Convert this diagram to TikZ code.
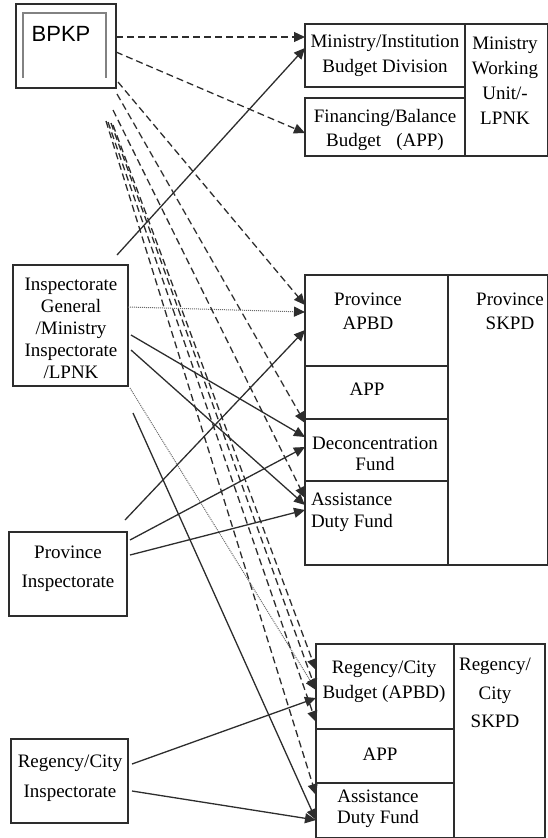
\documentclass[tikz,border=0pt]{standalone}
\usepackage{fontspec}
\setmainfont{Liberation Serif}
\newfontfamily\headsans{Liberation Sans}
\usetikzlibrary{arrows.meta,calc}
\definecolor{inkline}{RGB}{45,45,45}
\definecolor{framegray}{RGB}{130,130,130}
\definecolor{dotgray}{RGB}{105,105,105}
\begin{document}
\begin{tikzpicture}[x=1pt,y=-1pt,
  box/.style={draw=inkline,line width=1.2pt,inner sep=0pt,outer sep=0pt},
  lbl/.style={inner sep=0pt,outer sep=0pt,align=center,text=black,font=\fontsize{19}{#1}\selectfont},
  lbl/.default=24,
  solidarr/.style={draw=inkline,line width=1.3pt,-{Triangle[length=11pt,width=10pt]}},
  dasharr/.style={solidarr,dash pattern=on 7pt off 4pt},
  dotarr/.style={draw=dotgray,line width=1pt,dash pattern=on 1pt off 1pt,-{Triangle[length=11pt,width=10pt,color=inkline]}}]
\path[use as bounding box] (0,0) rectangle (548,838);
\node[box,minimum width=100pt,minimum height=84pt] (bpkp) at (66,46) {};
\draw[framegray,line width=1.3pt] ($(bpkp.south west)+(7,-10)$) -- ($(bpkp.north west)+(7,9)$) -- ($(bpkp.north east)+(-10,9)$) -- ($(bpkp.south east)+(-10,-10)$);
\node[inner sep=0pt,outer sep=0pt,text=black,font=\headsans\fontsize{22}{26}\selectfont] (bpkptext) at (61,34) {BPKP};
\node[box,minimum width=160pt,minimum height=63pt] (mininst) at (385,55.5) {};
\node[box,minimum width=160pt,minimum height=58pt] (finbal) at (385,127) {};
\node[box,minimum width=83pt,minimum height=132pt] (minunit) at (506.5,90) {};
\node[lbl=25] (mininsttext) at (385,56) {Ministry/Institution\\Budget Division};
\node[lbl=24] (finbaltext) at (385,130) {Financing/Balance\\Budget\hspace{0.8em}(APP)};
\node[lbl=25] (minunittext) at (505,81) {Ministry\\Working\\Unit/-\\LPNK};
\node[box,minimum width=143pt,minimum height=91pt] (provapbd) at (376.5,320.5) {};
\node[box,minimum width=143pt,minimum height=53pt] (provapp) at (376.5,392.5) {};
\node[box,minimum width=143pt,minimum height=62pt] (provdec) at (376.5,450) {};
\node[box,minimum width=143pt,minimum height=84pt] (provast) at (376.5,523) {};
\node[box,minimum width=100pt,minimum height=290pt] (provskpd) at (498,420) {};
\node[lbl=24] (provapbdtext) at (368,311) {Province\\APBD};
\node[lbl] (provapptext) at (367,389) {APP};
\node[lbl=21] (provdectext) at (375,454) {Deconcentration\\Fund};
\node[lbl=22,align=left,anchor=west] (provasttext) at (311,512) {Assistance\\Duty Fund};
\node[lbl=24] (provskpdtext) at (510,311) {Province\\SKPD};
\node[box,minimum width=138pt,minimum height=85pt] (regapbd) at (385,686.5) {};
\node[box,minimum width=138pt,minimum height=54pt] (regapp) at (385,756) {};
\node[box,minimum width=138pt,minimum height=55pt] (regast) at (385,810.5) {};
\node[box,minimum width=91pt,minimum height=194pt] (regskpd) at (499.5,741) {};
\node[lbl=25] (regapbdtext) at (384,682) {Regency/City\\Budget (APBD)};
\node[lbl] (regapptext) at (380,754) {APP};
\node[lbl=21] (regasttext) at (378,809) {Assistance\\Duty Fund};
\node[lbl=28.5] (regskpdtext) at (495,693) {Regency/\\City\\SKPD};
\node[box,minimum width=115pt,minimum height=121pt] (igbox) at (70.5,325.5) {};
\node[lbl=22] (igtext) at (71,328) {Inspectorate\\General\\/Ministry\\Inspectorate\\/LPNK};
\node[box,minimum width=118pt,minimum height=84pt] (provinsp) at (68,574) {};
\node[lbl=29] (provinsptext) at (68,569) {Province\\Inspectorate};
\node[box,minimum width=117pt,minimum height=84pt] (reginsp) at (69.5,781) {};
\node[lbl=30] (reginsptext) at (70,778) {Regency/City\\Inspectorate};
\draw[dasharr] ($(bpkp.north east)+(0,33)$) -- ($(mininst.north west)+(0,13)$);
\draw[dasharr] ($(bpkp.north east)+(0,48)$) -- ($(finbal.north west)+(0,35)$);
\draw[dasharr] ($(bpkp.north east)+(2,78)$) -- ($(provapbd.north west)+(0,30)$);
\draw[dasharr] ($(bpkp.south east)+(1,6)$) -- ($(provdec.north west)+(0,4)$);
\draw[dasharr] ($(bpkp.south east)+(-3,22)$) -- ($(provast.north west)+(0,17)$);
\draw[dasharr] ($(bpkp.south east)+(-3,37)$) -- ($(regapbd.north west)+(0,26)$);
\draw[dasharr] ($(bpkp.south east)+(-5,35)$) -- ($(regapbd.north west)+(0,46)$);
\draw[dasharr] ($(bpkp.south east)+(-8,34)$) -- ($(regapbd.north west)+(0,78)$);
\draw[dasharr] ($(bpkp.south east)+(-10,33)$) -- ($(regast.north west)+(0,12)$);
\draw[solidarr] ($(igbox.north east)+(-11,-10)$) -- ($(mininst.north west)+(0,24)$);
\draw[dotarr] ($(igbox.north east)+(0,42)$) -- ($(provapbd.north west)+(0,37)$);
\draw[solidarr] ($(igbox.north east)+(3,70)$) -- ($(provdec.north west)+(0,18)$);
\draw[solidarr] ($(igbox.north east)+(3,85)$) -- ($(provast.north west)+(0,24)$);
\draw[dotarr] ($(igbox.south east)+(2,2)$) -- ($(regapbd.north west)+(0,46)$);
\draw[solidarr] ($(igbox.south east)+(5,27)$) -- ($(regast.north west)+(0,37)$);
\draw[solidarr] ($(provinsp.north east)+(-2,-12)$) -- ($(provapbd.north west)+(0,55)$);
\draw[solidarr] ($(provinsp.north east)+(3,8)$) -- ($(provdec.north west)+(0,28)$);
\draw[solidarr] ($(provinsp.north east)+(3,23)$) -- ($(provast.north west)+(0,29)$);
\draw[solidarr] ($(reginsp.north east)+(4,25)$) -- ($(regapbd.north west)+(0,54)$);
\draw[solidarr] ($(reginsp.north east)+(4,52)$) -- ($(regast.north west)+(0,37)$);
\end{tikzpicture}
\end{document}
